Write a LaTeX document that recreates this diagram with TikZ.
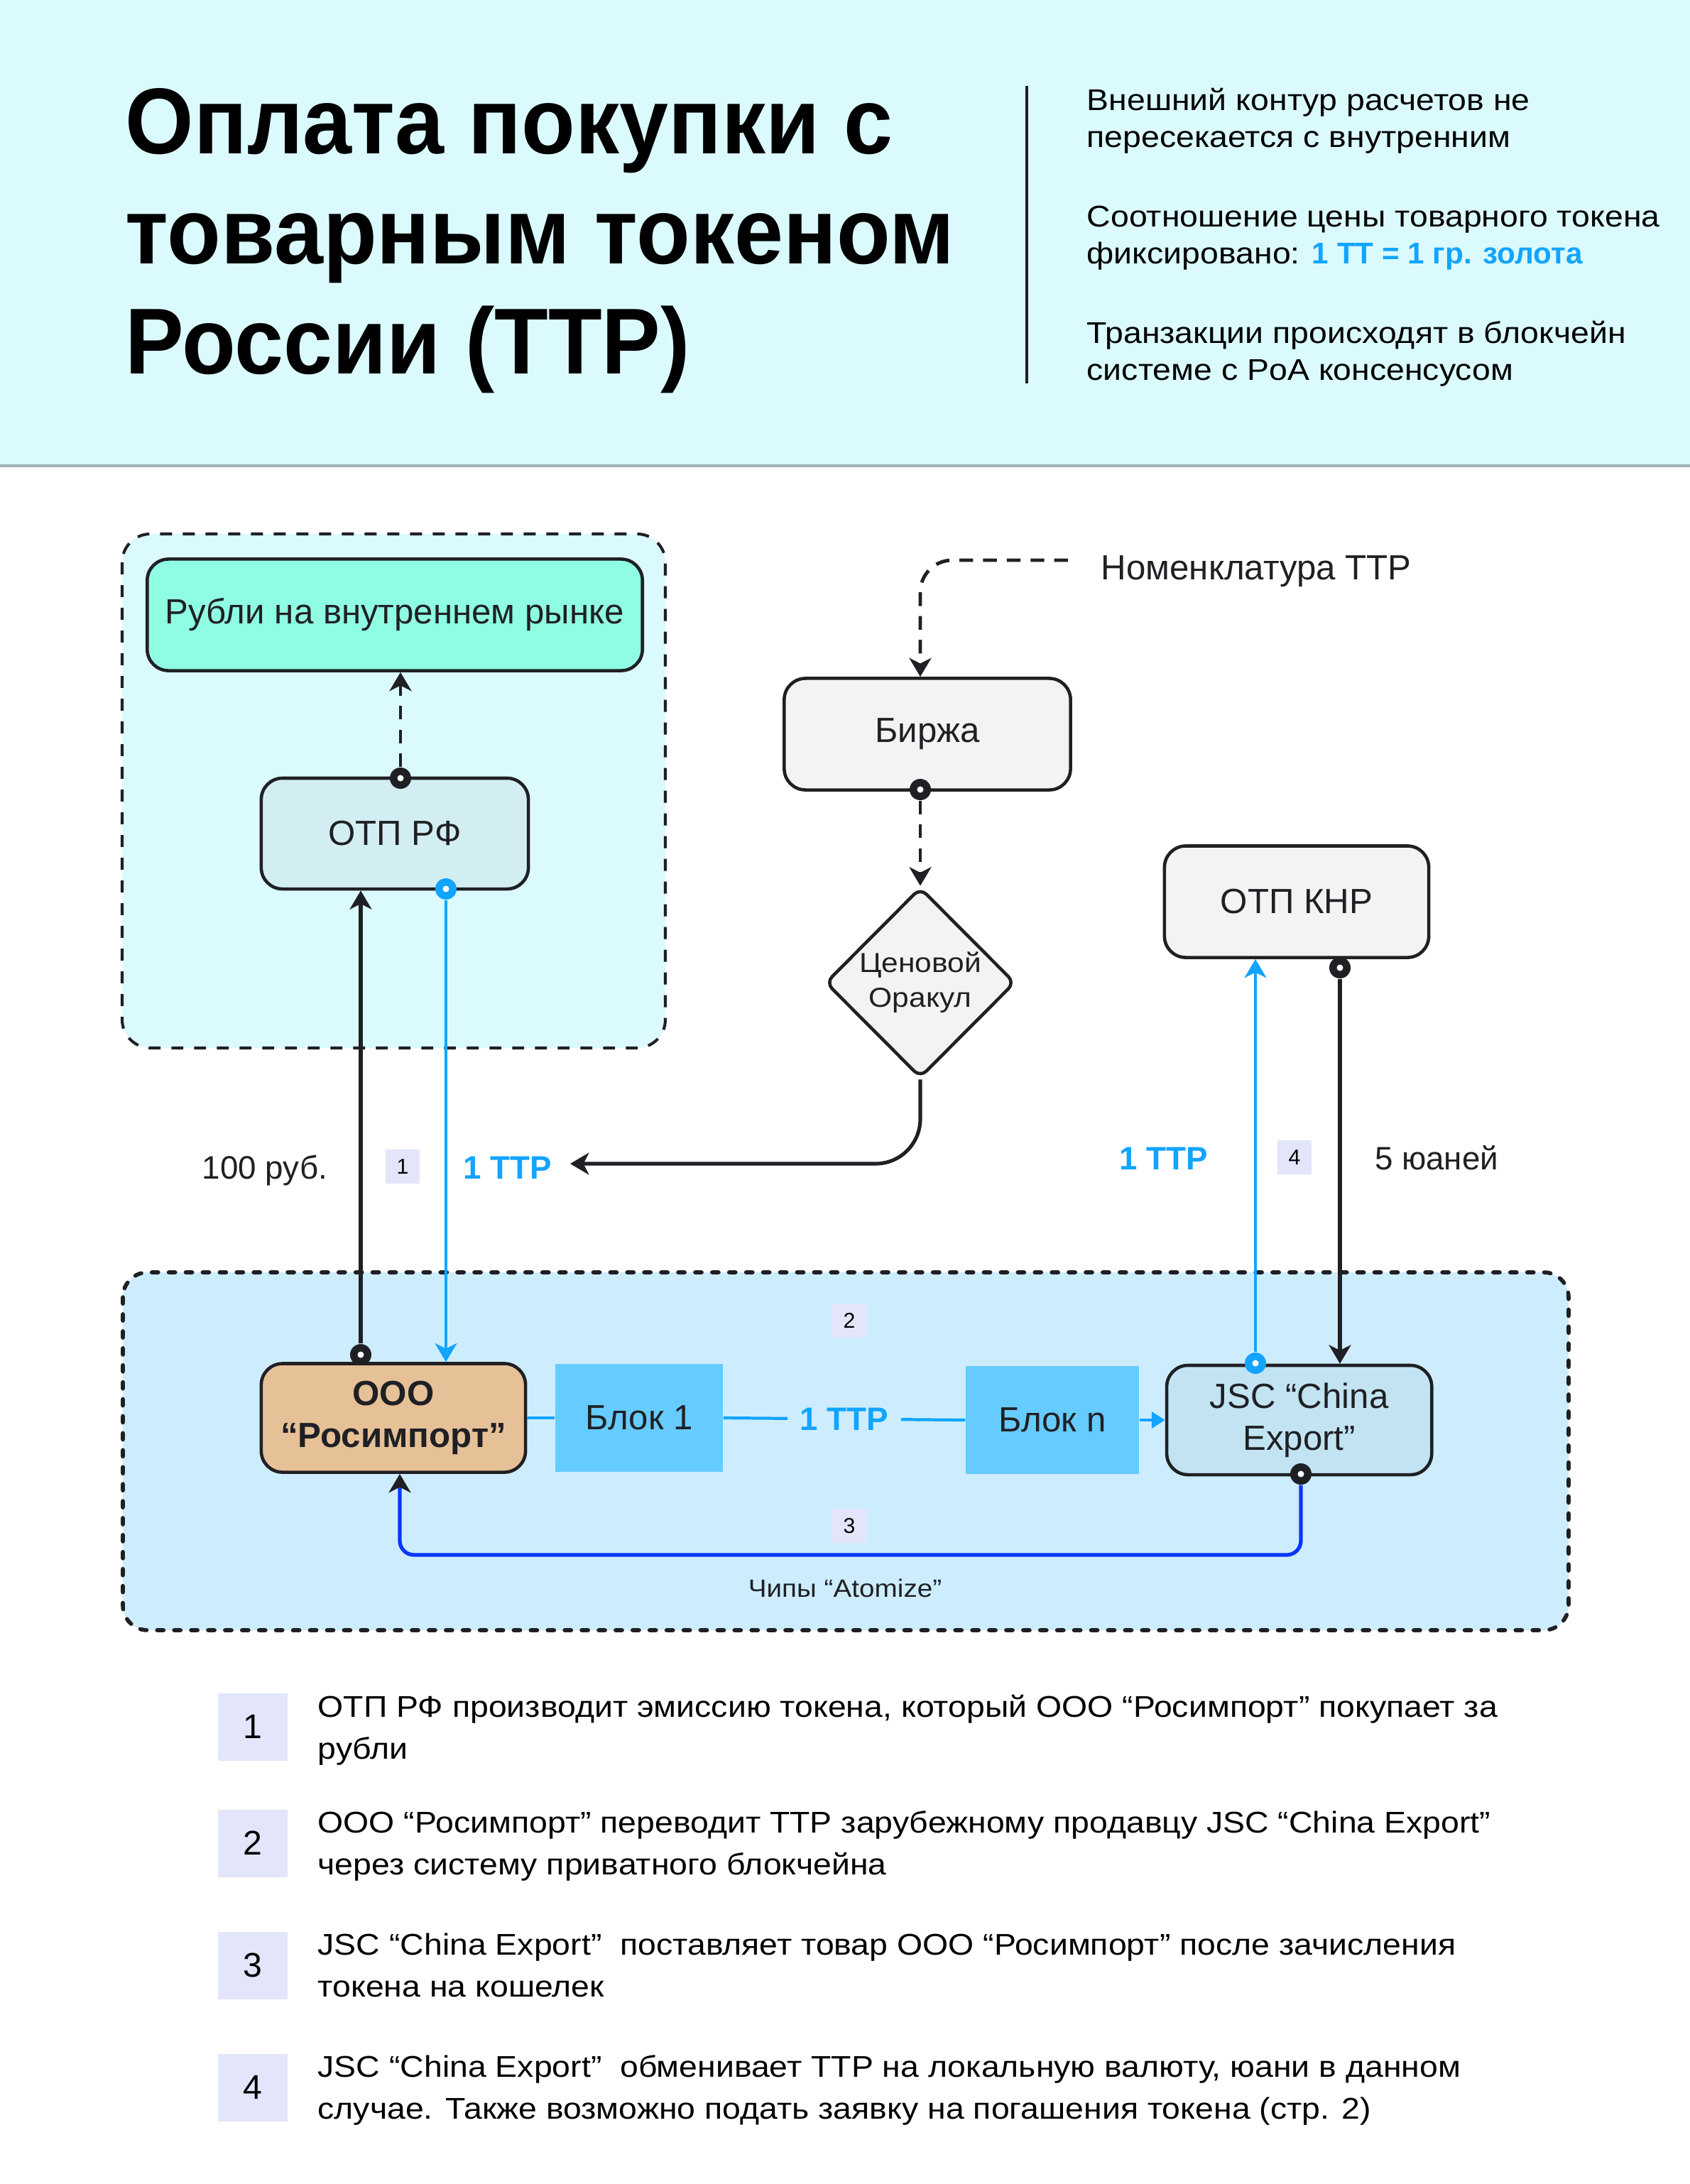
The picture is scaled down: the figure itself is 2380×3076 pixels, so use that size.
\documentclass[tikz,border=0pt]{standalone}
\usepackage{fontspec}
\setmainfont{Liberation Sans}
\newfontfamily\widefamily{Liberation Sans}[FakeStretch=1.1]
\newfontfamily\titlefamily{Liberation Sans}[FakeStretch=0.94]
\newfontfamily\plainfamily{Liberation Sans}
\usetikzlibrary{positioning, arrows.meta, shapes.geometric}

\definecolor{ink}{HTML}{1F2024}
\definecolor{headbg}{HTML}{DBFAFE}
\definecolor{headrule}{HTML}{9BB3B8}
\definecolor{mint}{HTML}{8FFDE3}
\definecolor{paleteal}{HTML}{D3EEF2}
\definecolor{boxgray}{HTML}{F3F3F3}
\definecolor{outerbg}{HTML}{CDEDFE}
\definecolor{blockblue}{HTML}{66CBFE}
\definecolor{tanfill}{HTML}{E6C197}
\definecolor{jscfill}{HTML}{C2E3F2}
\definecolor{sky}{HTML}{12A4FF}
\definecolor{deepblue}{HTML}{0A36FF}
\definecolor{lav}{HTML}{E3E5FA}

\newcommand\titlefont{\titlefamily\fontsize{37.5}{44.1}\selectfont\bfseries}
\newcommand\notefont{\widefamily\fontsize{12}{14.8}\selectfont}
\newcommand\nodefont{\fontsize{14}{16.8}\selectfont}
\newcommand\labelfont{\fontsize{13}{16}\selectfont}
\newcommand\oraclefont{\widefamily\fontsize{11}{14}\selectfont}
\newcommand\chipfont{\widefamily\fontsize{10}{11}\selectfont}
\newcommand\badgefont{\fontsize{8.6}{10}\selectfont}
\newcommand\listfont{\widefamily\fontsize{12}{16.8}\selectfont}

\tikzset{
  box/.style={draw=ink, line width=1.3pt, rounded corners=0.3cm, align=center,
    text=ink, font=\nodefont, inner sep=0pt},
  blockbox/.style={fill=blockblue, text=ink, font=\nodefont, inner sep=0pt,
    minimum height=1.51cm},
  badge/.style={fill=lav, minimum size=0.48cm, inner sep=0pt, font=\badgefont},
  listbadge/.style={fill=lav, minimum width=0.97cm, minimum height=0.95cm,
    inner sep=0pt, font=\fontsize{13.7}{16}\selectfont},
  listtext/.style={anchor=north west, inner sep=0pt, align=left, font=\listfont},
  note/.style={anchor=north west, inner sep=0pt, align=left, font=\notefont},
  plain/.style={inner sep=0pt, text=ink, font=\labelfont},
  ttplabel/.style={inner sep=0pt, text=sky, font=\labelfont\bfseries},
  startdot/.style={circle, fill=#1, minimum size=0.3cm, inner sep=0pt,
    path picture={\fill[white] (path picture bounding box.center) circle (0.045cm);}},
  startdot/.default=ink,
  inkline/.style={draw=ink, line width=1.45pt},
  skyline/.style={draw=sky, line width=1.2pt},
  dashline/.style={draw=ink, line width=1.4pt, dash pattern=on 5.5pt off 4pt},
  retline/.style={draw=deepblue, line width=1.5pt}
}

\begin{document}
\begin{tikzpicture}[x=0.01cm, y=-0.01cm, >={Stealth[length=7.5pt, width=8.8pt, inset=2.2pt]}]
  \useasboundingbox (0,0) rectangle (2380,3076);
  \fill[white] (0,0) rectangle (2380,3076);

  % header
  \fill[headbg] (0,0) rectangle (2380,656);
  \draw[headrule, line width=1.3pt] (0,656) -- (2380,656);
  \node[anchor=north west, inner sep=0pt, align=left, font=\titlefont] (title) at (176,124)
    {Оплата покупки с\\товарным токеном\\России (ТТР)};
  \draw[ink, line width=1pt] (1446,121) -- (1446,540);
  \node[note] (note1) at (1530,123) {Внешний контур расчетов не\\пересекается с внутренним};
  \node[note] (note2) at (1530,289) {Соотношение цены товарного токена\\фиксировано: {\color{sky}\plainfamily\bfseries 1 ТТ = 1 гр. золота}};
  \node[note] (note3) at (1530,451) {Транзакции происходят в блокчейн\\системе с PoA консенсусом};

  % containers
  \draw[ink, fill=headbg, line width=1.15pt, dash pattern=on 4.8pt off 4.3pt,
    rounded corners=0.4cm] (172,752) rectangle (937,1476);
  \draw[ink, fill=outerbg, line width=1.6pt, line cap=round, dash pattern=on 2.6pt off 4.2pt,
    rounded corners=0.35cm] (173,1792) rectangle (2209,2296);

  % nodes
  \node[box, fill=mint, minimum width=6.97cm, minimum height=1.57cm] (rub) at (556,866) {Рубли на внутреннем рынке};
  \node[box, fill=paleteal, minimum width=3.76cm, minimum height=1.56cm] (otprf) at (556,1174) {ОТП РФ};
  \node[box, fill=boxgray, minimum width=4.03cm, minimum height=1.57cm] (birzha) at (1306,1034) {Биржа};
  \node[box, diamond, fill=boxgray, minimum width=2.67cm, minimum height=2.68cm,
    rounded corners=0.12cm, font=\oraclefont] (oracle) at (1296,1384) {Ценовой\\Оракул};
  \node[box, fill=boxgray, minimum width=3.72cm, minimum height=1.57cm] (otpknr) at (1826,1270) {ОТП КНР};
  \node[box, fill=tanfill, minimum width=3.72cm, minimum height=1.53cm, font=\nodefont\bfseries] (ooo) at (554,1997) {ООО\\“Росимпорт”};
  \node[blockbox, minimum width=2.36cm, right=0.39cm of ooo] (blok1) {Блок 1};
  \node[blockbox, minimum width=2.44cm] (blokn) at (1482,2000) {Блок n};
  \node[box, fill=jscfill, minimum width=3.73cm, minimum height=1.54cm, right=0.36cm of blokn] (jsc) {JSC “China\\Export”};

  \node[anchor=base west, plain, font=\nodefont] (nom) at (1550,816) {Номенклатура ТТР};
  \coordinate (nomstart) at (1504,789);
  \coordinate (ttptip) at (803,1639);
  \coordinate (retcorner) at (563,2190);

  % labels
  \node[plain, anchor=base] (rub100) at (373,1660) {100 руб.};
  \node[badge] (b1) at (567,1643) {1};
  \node[ttplabel, anchor=base] (ttpL) at (715,1660) {1 ТТР};
  \node[ttplabel, anchor=base] (ttpR) at (1639,1647) {1 ТТР};
  \node[badge] (b4) at (1823,1630) {4};
  \node[plain, anchor=base] (yuan) at (2023,1647) {5 юаней};
  \node[badge] (b2) at (1196,1860) {2};
  \node[badge] (b3) at (1196,2149) {3};
  \node[inner sep=0pt, font=\chipfont, text=ink, anchor=base] (chips) at (1190,2249) {Чипы “Atomize”};

  % dots
  \node[startdot] (dRFtop) at (564,1096) {};
  \node[startdot=sky] (dRFbot) at (628,1252) {};
  \node[startdot] (dOOO) at (508,1908) {};
  \node[startdot] (dBirzha) at (1296,1112) {};
  \node[startdot] (dKNR) at (1887,1363) {};
  \node[startdot=sky] (dJSCtop) at (1768,1920) {};
  \node[startdot] (dJSCbot) at (1832,2076) {};

  % connectors
  \draw[dashline, ->] (dRFtop) -- (dRFtop |- rub.south);
  \draw[inkline, ->] (dOOO) -- (dOOO |- otprf.south);
  \draw[skyline, ->] (dRFbot) -- (dRFbot |- ooo.north);
  \draw[dashline, ->, rounded corners=0.45cm] (nomstart) -| (oracle.north |- birzha.north);
  \draw[dashline, ->] (dBirzha) -- (oracle.north);
  \draw[inkline, ->, rounded corners=0.63cm] (oracle.south) |- (ttptip);
  \draw[skyline, ->] (dJSCtop) -- (dJSCtop |- otpknr.south);
  \draw[inkline, ->] (dKNR) -- (dKNR |- jsc.north);
  \draw[skyline] (ooo.east) -- (blok1.west);
  \draw[skyline] (blok1.east) -- node[ttplabel, fill=outerbg, inner xsep=5pt, inner ysep=4pt] (ttpM) {1 ТТР} (blokn.west);
  \draw[skyline, -{Triangle[length=5.4pt, width=6.5pt]}] (blokn.east) -- (jsc.west);
  \draw[retline, -{Stealth[length=7.5pt, width=8.8pt, inset=2.2pt, color=ink]}, rounded corners=0.2cm]
    (dJSCbot) |- (retcorner) -- (retcorner |- ooo.south);

  % legend
  \node[listbadge] (n1) at (356,2432) {1};
  \node[listtext] (t1) at (447,2386) {ОТП РФ производит эмиссию токена, который ООО “Росимпорт” покупает за\\рубли};
  \node[listbadge] (n2) at (356,2596) {2};
  \node[listtext] (t2) at (447,2550) {ООО “Росимпорт” переводит ТТР зарубежному продавцу JSC “China Export”\\через систему приватного блокчейна};
  \node[listbadge] (n3) at (356,2768) {3};
  \node[listtext] (t3) at (447,2722) {JSC “China Export”\ \ поставляет товар ООО “Росимпорт” после зачисления\\токена на кошелек};
  \node[listbadge] (n4) at (356,2940) {4};
  \node[listtext] (t4) at (447,2894) {JSC “China Export”\ \ обменивает ТТР на локальную валюту, юани в данном\\случае. Также возможно подать заявку на погашения токена (стр. 2)};
\end{tikzpicture}
\end{document}
